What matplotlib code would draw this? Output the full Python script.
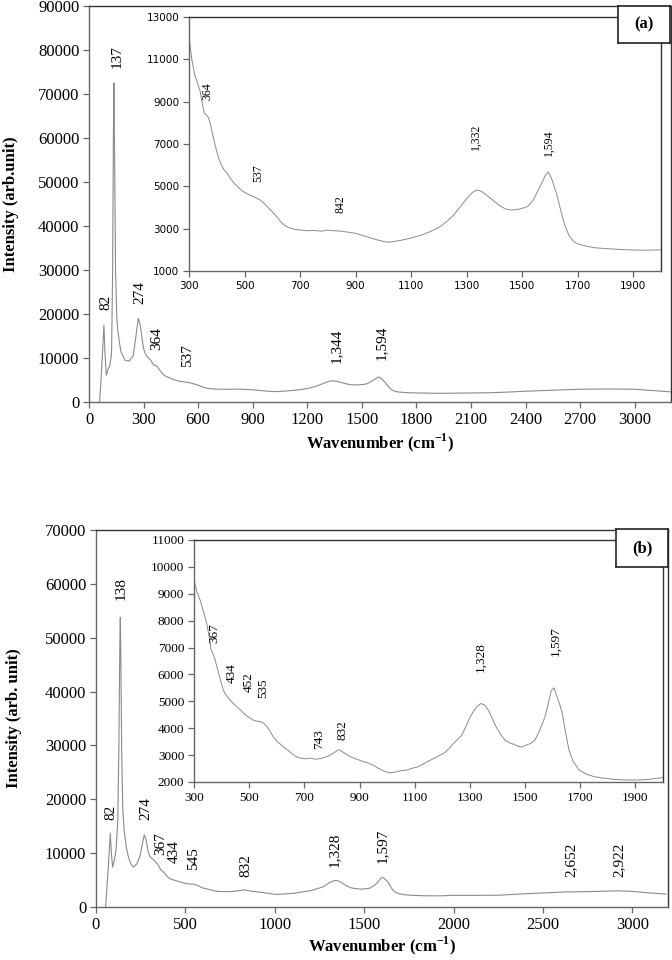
import matplotlib
matplotlib.use("Agg")
import matplotlib.pyplot as plt
import numpy as np

plt.rcParams["mathtext.fontset"] = "custom"
plt.rcParams["mathtext.rm"] = "Liberation Serif"
plt.rcParams["mathtext.bf"] = "Liberation Serif:bold"

# ---------------- data (a) ----------------
wn_a = [58, 66, 74, 82, 88, 95, 103, 115, 124, 130, 134, 137, 141, 146, 153, 160, 175, 198, 220, 243, 258, 271, 282, 295,
        300, 310, 320, 330, 340, 348, 355, 362, 370, 378, 386, 395, 405, 415, 425, 438, 450, 462, 475, 488, 500, 512,
        525, 540, 555, 570, 585, 600, 615, 630, 645, 660, 680, 700, 725, 750, 775, 800, 825, 850, 875, 900, 925, 950,
        975, 1000, 1020, 1040, 1060, 1080, 1100, 1125, 1150, 1175, 1200, 1225, 1250, 1275, 1300, 1320, 1337, 1355,
        1375, 1396, 1420, 1440, 1460, 1480, 1500, 1520, 1540, 1555, 1570, 1585, 1594, 1605, 1615, 1625, 1640, 1655,
        1670, 1685, 1700, 1730, 1760, 1800, 1850, 1900, 1950, 2000,
        2100, 2200, 2300, 2400, 2500, 2600, 2700, 2800, 2900, 3000, 3100, 3200]
int_a = [0, 5000, 11000, 17500, 11000, 6100, 7200, 8400, 11000, 30000, 60000, 72500, 55000, 30000, 19000, 15700, 11500,
         9500, 9300, 10500, 15000, 19000, 17500, 13500,
         12100, 11000, 10300, 9900, 9500, 8900, 8450, 8380, 8250, 7900, 7400, 6900, 6400, 6050, 5800, 5600, 5350, 5150,
         4980, 4820, 4720, 4630, 4550, 4470, 4360, 4200, 4000, 3800, 3580, 3330, 3150, 3050, 2970, 2940, 2900, 2920,
         2880, 2930, 2900, 2880, 2830, 2780, 2680, 2580, 2480, 2400, 2360, 2400, 2440, 2500, 2560, 2650, 2760, 2900,
         3060, 3300, 3600, 4000, 4420, 4700, 4830, 4750, 4550, 4330, 4080, 3930, 3880, 3900, 3960, 4050, 4350, 4750,
         5150, 5550, 5680, 5400, 5000, 4600, 3800, 3100, 2650, 2400, 2280, 2180, 2100, 2060, 2020, 1990, 1980, 2000,
         2050, 2100, 2250, 2450, 2600, 2750, 2900, 2950, 2950, 2900, 2600, 2300]

# ---------------- data (b) ----------------
wn_b = [54, 62, 70, 80, 86, 93, 103, 112, 122, 128, 133, 136, 139, 144, 150, 158, 170, 181, 195, 209, 228, 245, 258,
        270, 280, 292,
        300, 310, 322, 334, 346, 355, 361, 368, 376, 383, 392, 400, 406, 415, 423, 431, 440, 450, 460, 468, 480, 492,
        503, 515, 528, 540, 551, 563, 575, 588, 600, 614, 627, 639, 652, 665, 678, 690, 705, 720, 740, 759, 775, 790,
        806, 818, 827, 838, 850, 869, 890, 910, 930, 950, 970, 990, 1010, 1030, 1050, 1070, 1090, 1111, 1130, 1150,
        1170, 1190, 1207, 1225, 1240, 1255, 1269, 1285, 1298, 1310, 1325, 1340, 1355, 1368, 1379, 1395, 1410, 1427,
        1445, 1460, 1475, 1489, 1505, 1520, 1536, 1550, 1562, 1572, 1585, 1595, 1605, 1615, 1625, 1634, 1645, 1659,
        1675, 1696, 1720, 1750, 1780, 1820, 1860, 1900, 1950, 1990, 2000,
        2100, 2257, 2400, 2500, 2630, 2750, 2850, 2910, 3000, 3100, 3190]
int_b = [0, 4000, 8000, 13700, 10000, 7400, 8800, 10600, 16000, 30000, 48000, 53800, 46000, 28000, 18000, 14000, 11000,
         9300, 8000, 7400, 8000, 9300, 11500, 13400, 12500, 10200,
         9500, 9100, 8770, 8350, 7900, 7400, 6950, 6800, 6550, 6280, 5950, 5650, 5420, 5250, 5150, 5050, 4950, 4850,
         4750, 4680, 4560, 4450, 4380, 4300, 4260, 4250, 4200, 4080, 3900, 3670, 3520, 3400, 3280, 3190, 3080, 2980,
         2910, 2880, 2860, 2890, 2850, 2870, 2920, 2980, 3080, 3160, 3200, 3120, 3050, 2930, 2850, 2770, 2710, 2620,
         2500, 2400, 2340, 2370, 2420, 2440, 2510, 2560, 2660, 2780, 2880, 2990, 3080, 3250, 3430, 3580, 3720, 4050,
         4350, 4580, 4800, 4920, 4850, 4650, 4420, 4050, 3800, 3560, 3450, 3400, 3330, 3300, 3380, 3430, 3560, 3850,
         4150, 4420, 4950, 5400, 5500, 5200, 4900, 4600, 3950, 3190, 2750, 2450, 2300, 2200, 2150, 2100, 2080, 2070,
         2100, 2150, 2170,
         2150, 2200, 2450, 2600, 2800, 2850, 2950, 3000, 2900, 2600, 2400]

# ---------------- peak labels ----------------
lab_a_main = ["82", "137", "274", "364", "537", "1,344", "1,594"]
lab_a_main_pos = [(94, 20900), (154, 75900), (281, 22300), (374, 11800), (540, 8000), (1359, 8900), (1607, 9500)]
lab_a_in = ["364", "537", "842", "1,332", "1,594"]
lab_a_in_pos = [(368, 9080), (549, 5200), (844, 3740), (1334, 6715), (1597, 6430)]

lab_b_main = ["82", "138", "274", "367", "434", "545", "832", "1,328", "1,597", "2,652", "2,922"]
lab_b_main_pos = [(84, 16150), (140, 57000), (279, 16150), (363, 9650), (436, 8170), (547, 6870), (838, 5570),
                  (1335, 7430), (1603, 8170), (2659, 5570), (2927, 5570)]
lab_b_in = ["367", "434", "452", "535", "743", "832", "1,328", "1,597"]
lab_b_in_pos = [(373, 7170), (438, 5680), (500, 5350), (551, 5120), (752, 3230), (839, 3560), (1339, 6090),
                (1612, 6690)]

xt_a_main = list(range(0, 3001, 300))
yt_a_main = list(range(0, 90001, 10000))
xt_a_in = list(range(300, 1901, 200))
yt_a_in = list(range(1000, 13001, 2000))
xt_b_main = list(range(0, 3001, 500))
yt_b_main = list(range(0, 70001, 10000))
xt_b_in = list(range(300, 1901, 200))
yt_b_in = list(range(2000, 11001, 1000))

SERIF = ["Liberation Serif", "DejaVu Serif"]
LINE = "#8a8a8a"
W, H = 672, 960
XLABEL = "Wavenumber (cm$^{\\mathregular{-1}}$)"

fig = plt.figure(figsize=(W / 100, H / 100), dpi=100)


def rect(l, t, r, b):
    return [l / W, 1 - b / H, (r - l) / W, (b - t) / H]


def style(ax, fs, fam, spine_col="#666666"):
    for s in ax.spines.values():
        s.set_color(spine_col)
        s.set_linewidth(1.0)
    ax.spines["top"].set_color("#333333")
    ax.spines["right"].set_color("#333333")
    ax.tick_params(direction="out", length=4, width=0.9, color="#666666", labelsize=fs, pad=3)
    for lbl in ax.get_xticklabels() + ax.get_yticklabels():
        lbl.set_fontfamily(fam)


def label_box(l, t, r, b, txt):
    bx = fig.add_axes(rect(l, t, r, b))
    bx.set_xticks([])
    bx.set_yticks([])
    for s in bx.spines.values():
        s.set_color("#222222")
        s.set_linewidth(1.2)
    bx.text(0.5, 0.5, txt, ha="center", va="center", fontsize=12, fontweight="bold", family=SERIF,
            transform=bx.transAxes)


# ============ panel (a) ============
axA = fig.add_axes(rect(89, 6, 671, 402))
axA.plot(wn_a, int_a, color=LINE, lw=0.8)
axA.set_xlim(0, 3200)
axA.set_ylim(0, 90000)
axA.set_xticks(xt_a_main)
axA.set_yticks(yt_a_main)
style(axA, 12, SERIF)
axA.set_xlabel(XLABEL, fontsize=12, fontweight="bold", family=SERIF, labelpad=3)
axA.set_ylabel("Intensity (arb.unit)", fontsize=12, fontweight="bold", family=SERIF)
axA.yaxis.set_label_coords(-0.12, 0.5)
for t, (x, y) in zip(lab_a_main, lab_a_main_pos):
    axA.text(x, y, t, rotation=90, ha="center", va="bottom", fontsize=11, family=SERIF)

insA = fig.add_axes(rect(189, 17, 661, 271))
insA.plot(wn_a, int_a, color=LINE, lw=0.7)
insA.set_xlim(300, 2000)
insA.set_ylim(1000, 13000)
insA.set_xticks(xt_a_in)
insA.set_yticks(yt_a_in)
style(insA, 7.5, "DejaVu Sans")
for t, (x, y) in zip(lab_a_in, lab_a_in_pos):
    insA.text(x, y, t, rotation=90, ha="center", va="bottom", fontsize=8.5, family=SERIF)

label_box(618, 6, 670, 43, "(a)")

# ============ panel (b) ============
axB = fig.add_axes(rect(96, 530, 668, 907))
axB.plot(wn_b, int_b, color=LINE, lw=0.8)
axB.set_xlim(0, 3200)
axB.set_ylim(0, 70000)
axB.set_xticks(xt_b_main)
axB.set_yticks(yt_b_main)
style(axB, 12, SERIF)
axB.set_xlabel(XLABEL, fontsize=12, fontweight="bold", family=SERIF, labelpad=1)
axB.set_ylabel("Intensity (arb. unit)", fontsize=12, fontweight="bold", family=SERIF)
axB.yaxis.set_label_coords(-0.13, 0.5)
for t, (x, y) in zip(lab_b_main, lab_b_main_pos):
    axB.text(x, y, t, rotation=90, ha="center", va="bottom", fontsize=11, family=SERIF)

insB = fig.add_axes(rect(194, 540, 663, 782))
insB.plot(wn_b, int_b, color=LINE, lw=0.7)
insB.set_xlim(300, 2000)
insB.set_ylim(2000, 11000)
insB.set_xticks(xt_b_in)
insB.set_yticks(yt_b_in)
style(insB, 9.5, SERIF)
for t, (x, y) in zip(lab_b_in, lab_b_in_pos):
    insB.text(x, y, t, rotation=90, ha="center", va="bottom", fontsize=9.5, family=SERIF)

label_box(616, 529, 668, 567, "(b)")

fig.savefig("out.png", dpi=100)
